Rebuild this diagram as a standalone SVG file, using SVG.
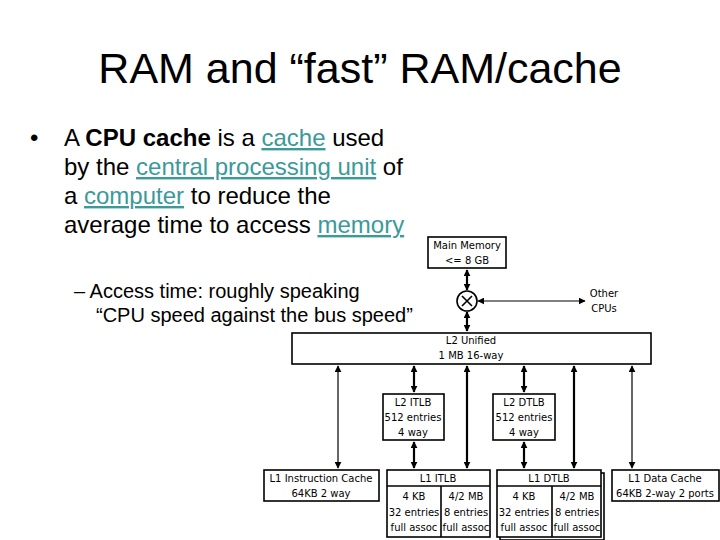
<svg xmlns="http://www.w3.org/2000/svg" width="720" height="540" viewBox="0 0 720 540">
<style>
.t{font-family:"Liberation Sans",Arial,sans-serif;fill:#000}
.lk{fill:#3a9a9a;text-decoration:underline}
.b{fill:#fff;stroke:#000;stroke-width:1.6}
.d{font-family:"DejaVu Sans",sans-serif;font-size:10px;text-anchor:middle;fill:#000}
.c{stroke:#000;stroke-width:1.2;fill:none;marker-start:url(#a);marker-end:url(#a)}
.k{stroke-width:2.2}
</style>
<defs><marker id="a" viewBox="0 0 10 10" refX="9" refY="5" markerWidth="7" markerHeight="7" markerUnits="userSpaceOnUse" orient="auto-start-reverse"><path d="M0,0L10,5L0,10z" fill="#000"/></marker></defs>
<rect width="720" height="540" fill="#fff"/>
<text class="t" x="360" y="83" font-size="43" text-anchor="middle">RAM and “fast” RAM/cache</text>
<g class="t" font-size="24">
<text x="30" y="146">•</text>
<text x="64" y="146">A <tspan font-weight="bold">CPU cache</tspan> is a <tspan class="lk">cache</tspan> used</text>
<text x="64" y="175">by the <tspan class="lk">central processing unit</tspan> of</text>
<text x="64" y="204">a <tspan class="lk">computer</tspan> to reduce the</text>
<text x="64" y="233">average time to access <tspan class="lk">memory</tspan></text>
</g>
<g class="t" font-size="20">
<text x="74" y="298">– Access time: roughly speaking</text>
<text x="96" y="322">“CPU speed against the bus speed”</text>
</g>
<g id="connectors">
<line class="c k" x1="467" y1="270" x2="467" y2="290"/>
<line class="c k" x1="467" y1="312" x2="467" y2="331"/>
<line class="c" x1="478" y1="301" x2="585" y2="301"/>
<line class="c" x1="338" y1="366" x2="338" y2="468"/>
<line class="c k" x1="414" y1="366" x2="414" y2="392"/>
<line class="c k" x1="414" y1="442" x2="414" y2="468"/>
<line class="c k" x1="467" y1="366" x2="467" y2="468"/>
<line class="c k" x1="524" y1="366" x2="524" y2="392"/>
<line class="c k" x1="524" y1="442" x2="524" y2="468"/>
<line class="c k" x1="574" y1="366" x2="574" y2="468"/>
<line class="c" x1="632" y1="366" x2="632" y2="468"/>
</g>
<g id="mainmem"><rect class="b" x="428" y="237" width="78" height="31"/><text class="d" x="467" y="249">Main Memory</text><text class="d" x="467" y="264">&lt;= 8 GB</text></g>
<g id="switch"><circle class="b" cx="467" cy="301" r="10"/><path d="M462,296L472,306M472,296L462,306" stroke="#000" stroke-width="1.6"/></g>
<g id="other"><text class="d" x="604" y="297">Other</text><text class="d" x="604" y="312">CPUs</text></g>
<g id="l2"><rect class="b" x="292" y="333" width="359" height="31"/><text class="d" x="471" y="344">L2 Unified</text><text class="d" x="471" y="359">1 MB 16-way</text></g>
<g id="l2itlb"><rect class="b" x="383" y="394" width="61" height="46"/><text class="d" x="413" y="406">L2 ITLB</text><text class="d" x="413" y="421">512 entries</text><text class="d" x="413" y="436">4 way</text></g>
<g id="l2dtlb"><rect class="b" x="493" y="394" width="62" height="46"/><text class="d" x="524" y="406">L2 DTLB</text><text class="d" x="524" y="421">512 entries</text><text class="d" x="524" y="436">4 way</text></g>
<g id="l1i"><rect class="b" x="264" y="470" width="115" height="31"/><text class="d" x="321" y="482">L1 Instruction Cache</text><text class="d" x="321" y="497">64KB 2 way</text></g>
<g id="l1itlb"><rect class="b" x="387" y="470" width="103" height="67"/><line x1="387" y1="486" x2="490" y2="486" stroke="#000" stroke-width="1.6"/><line x1="441" y1="486" x2="441" y2="537" stroke="#000" stroke-width="1.6"/>
<text class="d" x="438" y="482">L1 ITLB</text>
<text class="d" x="414" y="500">4 KB</text><text class="d" x="414" y="516">32 entries</text><text class="d" x="414" y="531">full assoc</text>
<text class="d" x="466" y="500">4/2 MB</text><text class="d" x="466" y="516">8 entries</text><text class="d" x="466" y="531">full assoc</text></g>
<g id="l1dtlb"><rect class="b" x="500" y="473" width="104" height="67"/><rect class="b" x="497" y="470" width="104" height="67"/><line x1="497" y1="486" x2="601" y2="486" stroke="#000" stroke-width="1.6"/><line x1="552" y1="486" x2="552" y2="537" stroke="#000" stroke-width="1.6"/>
<text class="d" x="549" y="482">L1 DTLB</text>
<text class="d" x="524" y="500">4 KB</text><text class="d" x="524" y="516">32 entries</text><text class="d" x="524" y="531">full assoc</text>
<text class="d" x="577" y="500">4/2 MB</text><text class="d" x="577" y="516">8 entries</text><text class="d" x="577" y="531">full assoc</text></g>
<g id="l1d"><rect class="b" x="612" y="470" width="107" height="31"/><text class="d" x="665" y="482">L1 Data Cache</text><text class="d" x="665" y="497">64KB 2-way 2 ports</text></g>
</svg>
